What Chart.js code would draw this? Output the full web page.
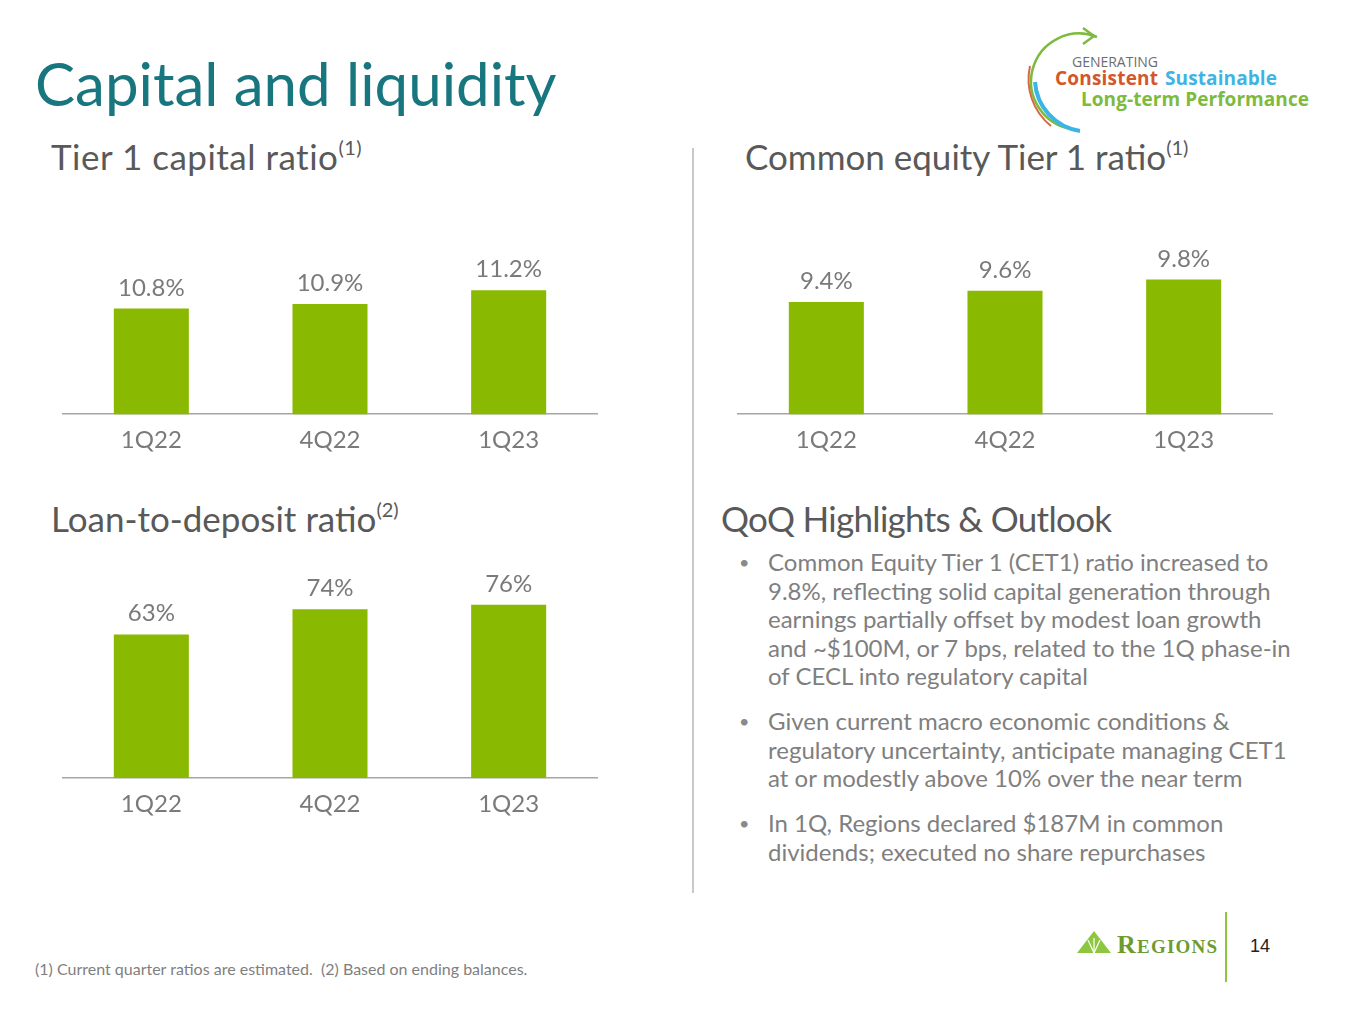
<!DOCTYPE html>
<html>
<head>
<meta charset="utf-8">
<title>Capital and liquidity</title>
<script src="https://cdn.jsdelivr.net/npm/chart.js@4.4.0/dist/chart.umd.min.js"></script>
<style>
  html, body { margin: 0; padding: 0; background: #fff; }
  body { width: 1365px; height: 1024px; position: relative; overflow: hidden; font-family: Lato, sans-serif; }
  .abs { position: absolute; white-space: nowrap; }
  .title { left: 35px; top: 53px; font-size: 60px; line-height: 60px; color: #18767f; }
  .sub { font-size: 35px; line-height: 35px; color: #595959; }
  .sub span { font-size: 20px; position: relative; top: -15px; }
  .box { position: absolute; width: 536px; height: 273px; }
  ul { position: absolute; left: 768px; top: 548px; margin: 0; padding: 0; list-style: none;
       font-size: 24px; line-height: 28.5px; color: #7f7f7f; }
  li { position: relative; white-space: nowrap; }
  li + li { margin-top: 16.5px; }
  li::before { content: "\2022"; position: absolute; left: -29px; top: 0; font-size: 18px; color: #8a8a8a; }
  .foot { left: 35px; top: 961px; font-size: 16px; line-height: 16px; color: #7f7f7f; }
  svg { position: absolute; left: 0; top: 0; }
</style>
</head>
<body>
<svg width="1365" height="1024">
  <!-- divider -->
  <line x1="693" y1="148" x2="693" y2="893" stroke="#c9c9c9" stroke-width="2"/>
  <!-- generating logo -->
  <path d="M 1097 37 A 48 48 0 1 0 1072 129" fill="none" stroke="#7dba3d" stroke-width="2.5"/>
  <polyline points="1083,28 1094,36 1083,44" fill="none" stroke="#7dba3d" stroke-width="2.5"/>
  <path d="M 1030 66 A 60 60 0 0 0 1051 126" fill="none" stroke="#d5693f" stroke-width="2"/>
  <path d="M 1035 82 A 53 53 0 0 0 1080 131" fill="none" stroke="#3ab5e6" stroke-width="4"/>
  <text x="1072" y="67" font-family="Open Sans" font-size="14" fill="#6d6d6d" textLength="86">GENERATING</text>
  <text x="1055" y="85" font-family="Open Sans" font-weight="bold" font-size="19" fill="#d2572c" textLength="103">Consistent</text>
  <text x="1165" y="85" font-family="Open Sans" font-weight="bold" font-size="19" fill="#3fb4e4" textLength="112">Sustainable</text>
  <text x="1081" y="106" font-family="Open Sans" font-weight="bold" font-size="19" fill="#7dba3d" textLength="228">Long-term Performance</text>
  <!-- regions logo -->
  <polygon points="1077,953 1094,931 1111,953" fill="#8dc63f"/>
  <line x1="1094" y1="953" x2="1094" y2="938" stroke="#fff" stroke-width="1.2"/>
  <line x1="1094" y1="953" x2="1088" y2="940" stroke="#fff" stroke-width="1.2"/>
  <line x1="1094" y1="953" x2="1100" y2="940" stroke="#fff" stroke-width="1.2"/>
  <text x="1117" y="953" font-family="Liberation Serif" font-weight="bold" fill="#6d9b2f" textLength="100"><tspan font-size="26">R</tspan><tspan font-size="19">EGIONS</tspan></text>
  <line x1="1226" y1="912" x2="1226" y2="982" stroke="#8dc63f" stroke-width="2"/>
  <text x="1250" y="952" font-family="Liberation Sans" font-size="18" fill="#222">14</text>
</svg>

<div class="abs title">Capital and liquidity</div>
<div class="abs sub" style="left:51px; top:139px; letter-spacing:0.5px;">Tier 1 capital ratio<span>(1)</span></div>
<div class="abs sub" style="left:745px; top:139px;">Common equity Tier 1 ratio<span>(1)</span></div>
<div class="abs sub" style="left:51px; top:501px;">Loan-to-deposit ratio<span>(2)</span></div>
<div class="abs sub" style="left:721px; top:501px; letter-spacing:-0.7px;">QoQ Highlights &amp; Outlook</div>

<div class="box" style="left:62px; top:194px;"><canvas id="tier1Chart"></canvas></div>
<div class="box" style="left:737px; top:194px;"><canvas id="cet1Chart"></canvas></div>
<div class="box" style="left:62px; top:558px;"><canvas id="ltdChart"></canvas></div>

<ul>
  <li>Common Equity Tier 1 (CET1) ratio increased to<br>9.8%, reflecting solid capital generation through<br>earnings partially offset by modest loan growth<br>and ~$100M, or 7 bps, related to the 1Q phase-in<br>of CECL into regulatory capital</li>
  <li>Given current macro economic conditions &amp;<br>regulatory uncertainty, anticipate managing CET1<br>at or modestly above 10% over the near term</li>
  <li>In 1Q, Regions declared $187M in common<br>dividends; executed no share repurchases</li>
</ul>

<div class="abs foot">(1) Current quarter ratios are estimated.&nbsp; (2) Based on ending balances.</div>

<script>
const quarters = ['1Q22', '4Q22', '1Q23'];
const tier1Values = [10.8, 10.9, 11.2];
const cet1Values = [9.4, 9.6, 9.8];
const loanDepositValues = [63, 74, 76];

const barGreen = '#89b900';
const textGrey = '#7a7a7a';

// draws the value above each bar
const valueLabels = {
  id: 'valueLabels',
  afterDatasetsDraw(chart, args, opts) {
    const ctx = chart.ctx;
    const values = chart.data.datasets[0].data;
    ctx.save();
    ctx.font = '24px Lato';
    ctx.fillStyle = textGrey;
    ctx.textAlign = 'center';
    ctx.textBaseline = 'alphabetic';
    chart.getDatasetMeta(0).data.forEach(function (bar, i) {
      ctx.fillText(opts.format(values[i]), bar.x, bar.y - 13);
    });
    ctx.restore();
  }
};

function makeChart(id, values, yMin, yMax, format) {
  return new Chart(document.getElementById(id), {
    type: 'bar',
    data: {
      labels: quarters,
      datasets: [
        {
          data: values,
          backgroundColor: barGreen,
          barPercentage: 0.42,
          categoryPercentage: 1,
        },
      ],
    },
    options: {
      responsive: true,
      maintainAspectRatio: false,
      animation: false,
      layout: { padding: { top: 20, left: 0, right: 0, bottom: 0 } },
      plugins: {
        legend: { display: false },
        tooltip: { enabled: false },
        valueLabels: { format: format },
      },
      scales: {
        x: {
          grid: { display: false, drawTicks: false },
          border: { display: true, color: '#a6a6a6', width: 1.5 },
          ticks: { color: textGrey, font: { family: 'Lato', size: 24 }, padding: 12 },
        },
        y: { display: false, min: yMin, max: yMax },
      },
    },
    plugins: [valueLabels],
  });
}

function pct1(v) { return v.toFixed(1) + '%'; }
function pct0(v) { return v.toFixed(0) + '%'; }

document.fonts.load('24px Lato').then(function () {
  makeChart('tier1Chart', tier1Values, 8.5, 12.86, pct1);
  makeChart('cet1Chart', cet1Values, 7.4, 10.97, pct1);
  makeChart('ltdChart', loanDepositValues, 0, 87.7, pct0);
});
</script>
</body>
</html>
